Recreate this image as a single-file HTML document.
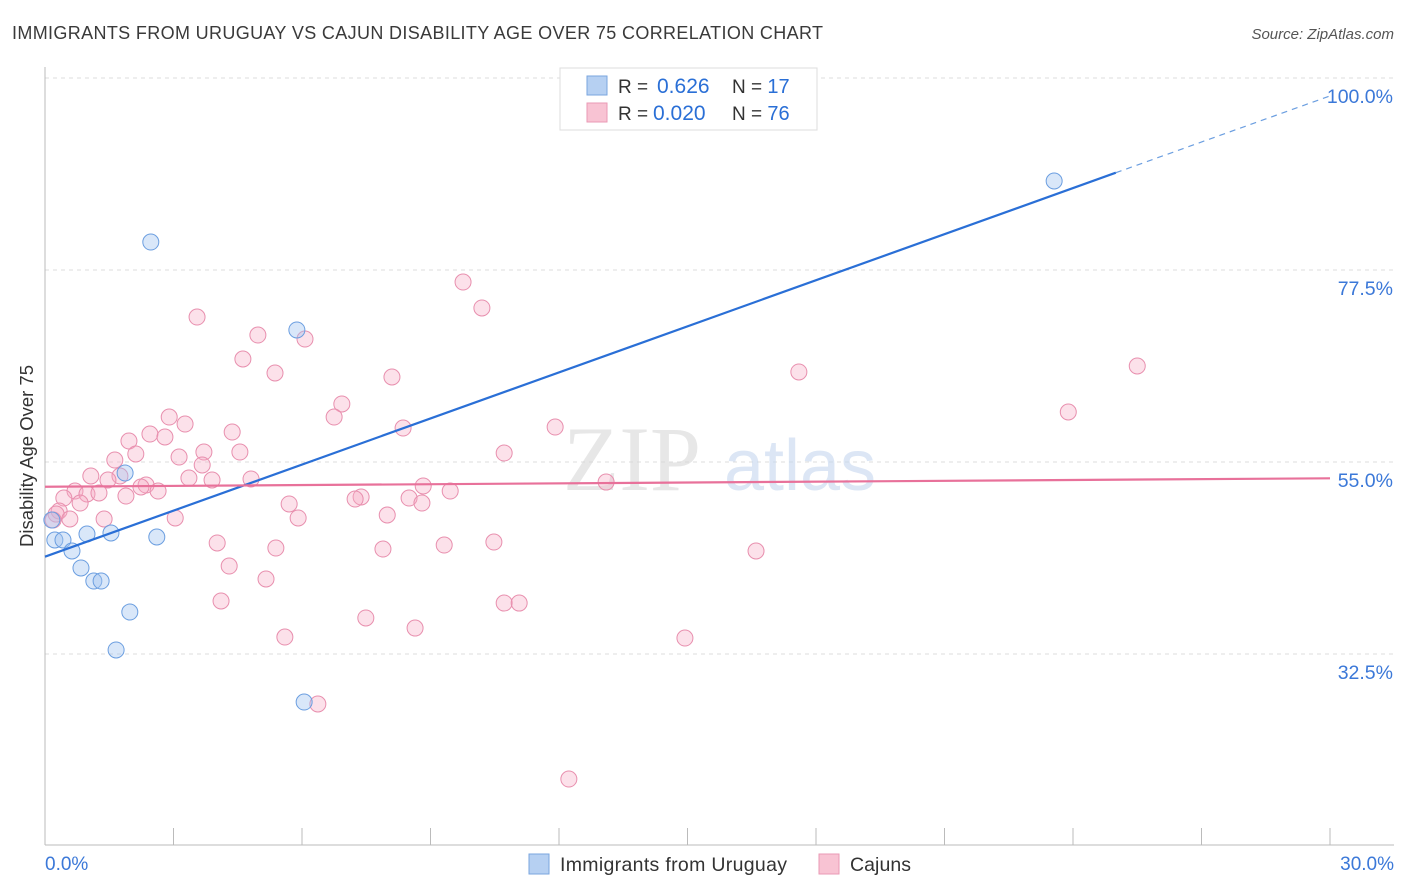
<!DOCTYPE html>
<html><head><meta charset="utf-8">
<style>
body{margin:0;background:#fff;font-family:"Liberation Sans",sans-serif;}
#wrap{position:relative;width:1406px;height:892px;overflow:hidden;}
</style></head>
<body>
<div id="wrap">
<svg id="chart" width="1406" height="892">
  <text x="12" y="39" font-size="18" fill="#3a3a3a" textLength="811" lengthAdjust="spacing">IMMIGRANTS FROM URUGUAY VS CAJUN DISABILITY AGE OVER 75 CORRELATION CHART</text>
  <text x="1394" y="39" font-size="15" fill="#555" font-style="italic" text-anchor="end">Source: ZipAtlas.com</text>
  <text x="0" y="0" font-size="18.5" fill="#333" text-anchor="middle" transform="translate(33,456) rotate(-90)">Disability Age Over 75</text>
  <g id="grid"></g>
  <text x="632" y="490" font-size="92" fill="#d8d8d8" font-family="Liberation Serif,serif" text-anchor="middle" opacity="0.6">ZIP</text>
  <text x="800" y="490" font-size="72" fill="#c5d7ef" text-anchor="middle" opacity="0.6">atlas</text>
  <g id="marks"></g>
  <g>
    <rect x="560" y="68" width="257" height="62" fill="#fff" stroke="#ddd"/>
    <rect x="587" y="76" width="20" height="19" fill="#b6d0f2" stroke="#7aa6df"/>
    <rect x="587" y="103" width="20" height="19" fill="#f8c3d3" stroke="#ea9ab5"/>
    <text x="618" y="93" font-size="19" fill="#333">R = <tspan x="657" fill="#2a6fd6" font-size="21">0.626</tspan></text>
    <text x="732" y="93" font-size="19" fill="#333">N = <tspan fill="#2a6fd6" font-size="20">17</tspan></text>
    <text x="618" y="120" font-size="19" fill="#333">R = <tspan x="653" fill="#2a6fd6" font-size="21">0.020</tspan></text>
    <text x="732" y="120" font-size="19" fill="#333">N = <tspan fill="#2a6fd6" font-size="20">76</tspan></text>
  </g>
  <g>
    <rect x="529" y="854" width="20" height="20" fill="#b6d0f2" stroke="#7aa6df"/>
    <text x="560" y="871" font-size="19.5" fill="#333" textLength="227">Immigrants from Uruguay</text>
    <rect x="819" y="854" width="20" height="20" fill="#f8c3d3" stroke="#ea9ab5"/>
    <text x="850" y="871" font-size="19.5" fill="#333" textLength="61">Cajuns</text>
  </g>
</svg>
</div>
<script>
const xTicks = [0,3,6,9,12,15,18,21,24,27,30];
const yTicks = [100,77.5,55,32.5];
const yTickLabels = ["100.0%","77.5%","55.0%","32.5%"];
const xEndLabels = ["0.0%","30.0%"];
const uruguayX = [23.56,2.47,5.88,1.87,0.16,0.23,0.42,0.98,1.54,2.61,0.63,0.84,1.14,1.31,1.98,1.66,6.05];
const uruguayY = [87.93,80.78,70.47,53.71,48.20,45.86,45.86,46.56,46.68,46.21,44.57,42.58,41.05,41.05,37.42,32.97,26.87];
const cajunX = [9.76,10.20,3.55,4.97,6.07,4.62,5.37,8.10,17.60,25.50,6.93,6.75,23.89,2.90,3.27,2.45,2.80,4.37,1.96,8.36,11.91,3.71,4.55,2.12,3.13,10.72,1.63,3.67,1.07,1.75,3.36,3.90,4.81,1.47,2.36,2.24,2.64,0.70,0.98,1.26,1.89,0.44,13.10,8.83,9.46,7.38,7.24,8.50,8.80,5.70,0.82,0.33,0.26,0.19,0.58,1.38,3.04,5.91,7.99,4.02,5.39,7.89,9.32,10.48,16.60,4.30,5.16,4.11,10.72,11.07,7.49,8.64,5.60,14.94,6.37,12.23];
const cajunY = [76.09,73.05,71.99,69.88,69.41,67.07,65.43,64.96,65.55,66.25,61.80,60.27,60.86,60.27,59.45,58.28,57.93,58.51,57.46,58.98,59.10,56.17,56.17,55.94,55.58,56.05,55.23,54.65,53.36,53.36,53.12,52.89,53.01,52.89,52.30,52.07,51.60,51.60,51.25,51.37,51.01,50.78,52.65,52.19,51.60,50.90,50.66,50.78,50.19,50.08,50.19,49.26,48.90,48.20,48.32,48.32,48.44,48.44,48.79,45.51,44.92,44.80,45.27,45.62,44.57,42.81,41.29,38.71,38.47,38.47,36.72,35.54,34.49,34.37,26.64,17.85];
const uruguayTrend = [43.9, 1.8];   // intercept, slope
const cajunTrend = [52.1, 0.033];

const X = v => 45 + v * (1285 / 30);
const Y = v => 78 + (100 - v) * (192 / 22.5);
const NS = "http://www.w3.org/2000/svg";
const grid = document.getElementById("grid");
const marks = document.getElementById("marks");
function mk(tag, attrs, parent){const e=document.createElementNS(NS,tag);for(const k in attrs)e.setAttribute(k,attrs[k]);parent.appendChild(e);return e;}

yTicks.forEach((t,i)=>{
  const l = mk("line",{x1:45,x2:1394,y1:Y(t),y2:Y(t),stroke:"#ddd","stroke-dasharray":"4,4"},grid);
  
  
  const tx = mk("text",{x:1393,y:Y(t)+25,"font-size":19.5,fill:"#3b78d8","text-anchor":"end"},grid);
  tx.textContent = yTickLabels[i];
  
  
});
const ya = mk("line",{x1:45,x2:45,y1:67,y2:845,stroke:"#bbb"},grid);


const xa = mk("line",{x1:45,x2:1394,y1:845,y2:845,stroke:"#bbb"},grid);


xTicks.forEach(t=>{
  const l = mk("line",{x1:X(t),x2:X(t),y1:828,y2:845,stroke:"#bbb"},grid);
  
  
});
[[0,"start",45],[30,"end",1394]].forEach((d,i)=>{
  const tx = mk("text",{x:d[2],y:870,"font-size":19,fill:"#3b78d8","text-anchor":d[1]},grid);
  tx.textContent = xEndLabels[i];
  
  
});

cajunX.forEach((x,i)=>{
  const c = mk("circle",{cx:X(x),cy:Y(cajunY[i]),r:8,fill:"rgba(245,170,196,0.35)",stroke:"#e88fae","stroke-width":1},marks);
  
  
});
uruguayX.forEach((x,i)=>{
  const c = mk("circle",{cx:X(x),cy:Y(uruguayY[i]),r:8,fill:"rgba(160,195,240,0.4)",stroke:"#6b9ee0","stroke-width":1},marks);
  
  
});

const f = (t,x)=>t[0]+t[1]*x;
const ul = mk("line",{x1:X(0),y1:Y(f(uruguayTrend,0)),x2:X(25),y2:Y(f(uruguayTrend,25)),stroke:"#2a6fd6","stroke-width":2.2},marks);


const ud = mk("line",{x1:X(25),y1:Y(f(uruguayTrend,25)),x2:X(30),y2:Y(f(uruguayTrend,30)),stroke:"#6b9ee0","stroke-width":1.2,"stroke-dasharray":"6,5"},marks);


const cl = mk("line",{x1:X(0),y1:Y(f(cajunTrend,0)),x2:X(30),y2:Y(f(cajunTrend,30)),stroke:"#e8719a","stroke-width":2.2},marks);


</script>
</body></html>
